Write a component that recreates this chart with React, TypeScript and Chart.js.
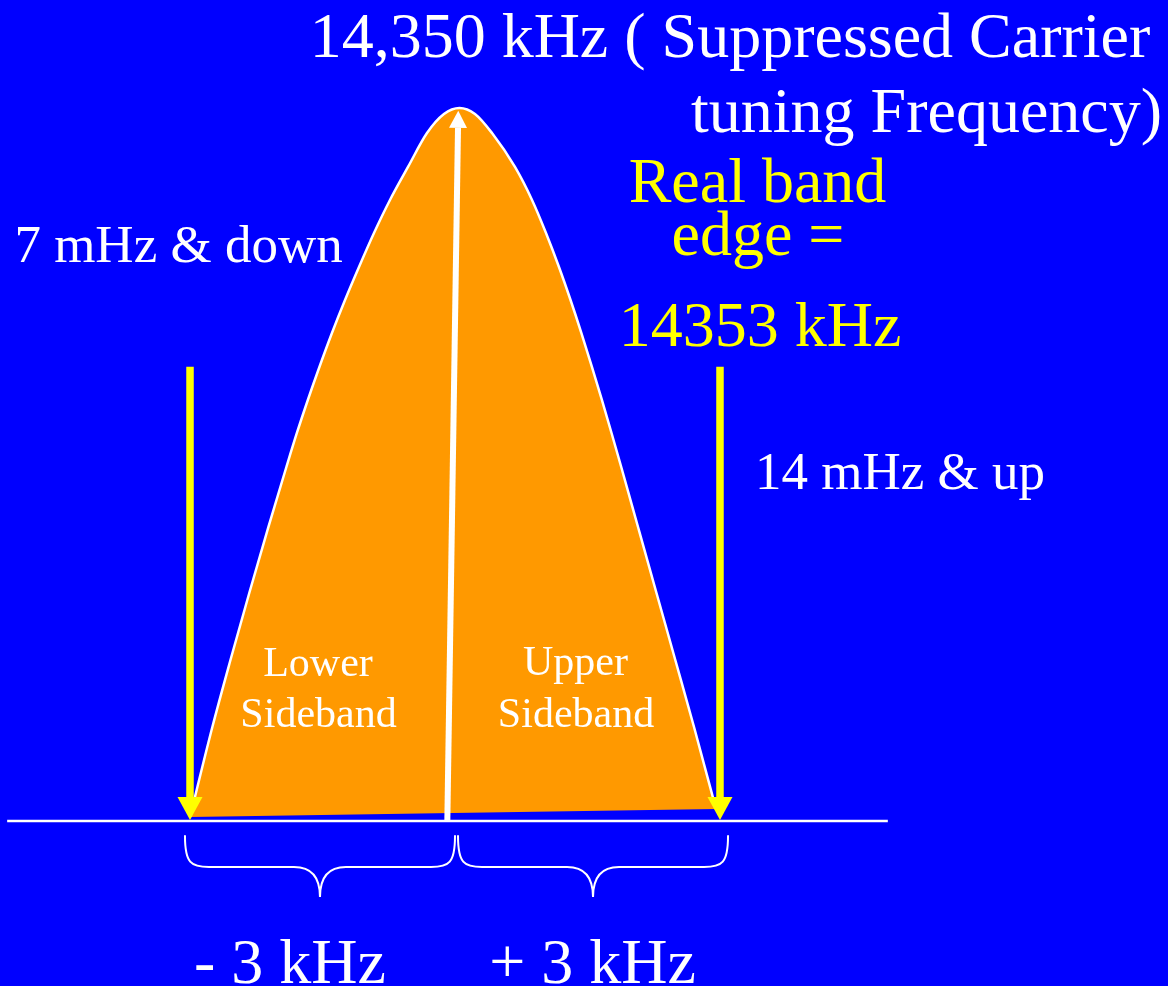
import React, { useEffect, useRef } from "react";
import { Chart, registerables } from "chart.js";

Chart.register(...registerables);

// ---- Data (x: offset from suppressed carrier in kHz, y: relative amplitude) ----
const curveOffsetKHz = [
  -3.0, -2.747, -2.542, -2.329, -2.113, -1.909, -1.79, -1.666, -1.535, -1.393, -1.245, -1.087,
  -0.917, -0.736, -0.532, -0.317, -0.125, 0.051, 0.226, 0.419, 0.679, 0.872, 1.03, 1.177, 1.308,
  1.431, 1.551, 1.663, 1.772, 1.882, 2.072, 2.281, 2.494, 2.706, 2.955,
];
const curveAmplitude = [
  0.0056, 0.1318, 0.2258, 0.3198, 0.4123, 0.4965, 0.5442, 0.5905, 0.6367, 0.6844, 0.7307, 0.777,
  0.8247, 0.871, 0.9173, 0.9649, 0.9916, 1.0, 0.9916, 0.9649, 0.9173, 0.871, 0.8247, 0.777, 0.7307,
  0.6844, 0.6367, 0.5905, 0.5442, 0.4965, 0.4123, 0.3198, 0.2258, 0.1318, 0.0168,
];
const bottomEdgeX = [-3.0, 2.955];
const bottomEdgeY = [0.0056, 0.0168];

const axisLineX = [-5.07, 4.9];
const axisLineY = [0, 0];

const bandEdgeArrowX = [-3.0, 3.0];
const bandEdgeArrowTop = 0.637;
const bandEdgeArrowShaftEnd = 0.03;
const bandEdgeArrowTip = 0.0014;

const carrierArrowX = [-0.087, 0.034];
const carrierArrowY = [0, 0.972];
const carrierArrowTip = [0.037, 0.996];

const braceFromKHz = [-3.057, 0.034];
const braceToKHz = [0.0, 3.091];
const braceTopY = -0.021;
const braceMidY = -0.0645;
const braceTipY = -0.1066;

const carrierLabel = ["14,350 kHz ( Suppressed Carrier", "tuning Frequency)"];
const bandEdgeLabel = ["Real band", "edge =", "14353 kHz"];
const lowerBandLabel = "7 mHz & down";
const upperBandLabel = "14 mHz & up";
const sidebandLabels = [
  ["Lower", "Sideband"],
  ["Upper", "Sideband"],
];
const offsetLabels = ["- 3 kHz", "+ 3 kHz"];

// ---- Styling ----
const BLUE = "#0000FF";
const ORANGE = "#FF9900";
const YELLOW = "#FFFF00";
const WHITE = "#FFFFFF";
const FONT = '"Liberation Serif", "Times New Roman", serif';

const zip = (xs: number[], ys: number[]) => xs.map((x, i) => ({ x, y: ys[i] }));

function drawHead(
  ctx: CanvasRenderingContext2D,
  tx: number,
  ty: number,
  fx: number,
  fy: number,
  len: number,
  w: number,
  color: string
) {
  const dx = tx - fx;
  const dy = ty - fy;
  const d = Math.hypot(dx, dy) || 1;
  const ux = dx / d;
  const uy = dy / d;
  const bx = tx - ux * len;
  const by = ty - uy * len;
  const nx = -uy;
  const ny = ux;
  ctx.beginPath();
  ctx.moveTo(tx, ty);
  ctx.lineTo(bx + (nx * w) / 2, by + (ny * w) / 2);
  ctx.lineTo(bx - (nx * w) / 2, by - (ny * w) / 2);
  ctx.closePath();
  ctx.fillStyle = color;
  ctx.fill();
}

const overlayPlugin = {
  id: "overlay",
  afterDatasetsDraw(chart: any) {
    const ctx: CanvasRenderingContext2D = chart.ctx;
    const xs = chart.scales.x;
    const ys = chart.scales.y;
    const px = (v: number) => xs.getPixelForValue(v);
    const py = (v: number) => ys.getPixelForValue(v);
    ctx.save();

    // arrow heads
    bandEdgeArrowX.forEach((x) => {
      drawHead(ctx, px(x), py(bandEdgeArrowTip), px(x), py(bandEdgeArrowTop), 23, 25, YELLOW);
    });
    drawHead(
      ctx,
      px(carrierArrowTip[0]),
      py(carrierArrowTip[1]),
      px(carrierArrowX[0]),
      py(carrierArrowY[0]),
      17,
      18,
      WHITE
    );

    // braces
    ctx.strokeStyle = WHITE;
    ctx.lineWidth = 2;
    ctx.lineCap = "round";
    braceFromKHz.forEach((from, i) => {
      const x0 = px(from);
      const x1 = px(braceToKHz[i]);
      const xm = (x0 + x1) / 2;
      const yT = py(braceTopY);
      const yM = py(braceMidY);
      const yP = py(braceTipY);
      ctx.beginPath();
      ctx.moveTo(x0, yT);
      ctx.bezierCurveTo(x0, yM - 4, x0 + 6, yM, x0 + 24, yM);
      ctx.lineTo(xm - 26, yM);
      ctx.bezierCurveTo(xm - 8, yM, xm, yM + 10, xm, yP);
      ctx.bezierCurveTo(xm, yM + 10, xm + 8, yM, xm + 26, yM);
      ctx.lineTo(x1 - 24, yM);
      ctx.bezierCurveTo(x1 - 6, yM, x1, yM - 4, x1, yT);
      ctx.stroke();
    });

    // texts
    ctx.textAlign = "center";
    ctx.textBaseline = "alphabetic";
    const text = (s: string, x: number, y: number, size: number, color: string) => {
      ctx.font = `${size}px ${FONT}`;
      ctx.fillStyle = color;
      ctx.fillText(s, px(x), py(y));
    };
    text(carrierLabel[0], 3.113, 1.0715, 64, WHITE);
    text(carrierLabel[1], 5.338, 0.9663, 64, WHITE);
    text(bandEdgeLabel[0], 3.425, 0.8682, 64, YELLOW);
    text(bandEdgeLabel[1], 3.43, 0.7938, 64, YELLOW);
    text(bandEdgeLabel[2], 3.453, 0.6655, 64, YELLOW);
    text(lowerBandLabel, -3.13, 0.784, 53, WHITE);
    text(upperBandLabel, 5.038, 0.4656, 53, WHITE);
    text(sidebandLabels[0][0], -1.551, 0.2034, 42, WHITE);
    text(sidebandLabels[0][1], -1.545, 0.1325, 42, WHITE);
    text(sidebandLabels[1][0], 1.364, 0.2048, 42, WHITE);
    text(sidebandLabels[1][1], 1.37, 0.1325, 42, WHITE);
    text(offsetLabels[0], -1.868, -0.2272, 64, WHITE);
    text(offsetLabels[1], 1.557, -0.2272, 64, WHITE);

    ctx.restore();
  },
};

export default function App() {
  const canvasRef = useRef<HTMLCanvasElement | null>(null);

  useEffect(() => {
    const canvas = canvasRef.current;
    if (!canvas) return;
    const chart = new Chart(canvas, {
      type: "line",
      data: {
        datasets: [
          {
            label: "Sideband envelope",
            data: zip(curveOffsetKHz, curveAmplitude),
            borderColor: WHITE,
            borderWidth: 2.5,
            backgroundColor: ORANGE,
            fill: 1,
            cubicInterpolationMode: "monotone",
            pointRadius: 0,
            order: 10,
          } as any,
          {
            label: "Bottom edge",
            data: zip(bottomEdgeX, bottomEdgeY),
            borderWidth: 0,
            borderColor: "rgba(0,0,0,0)",
            pointRadius: 0,
            fill: false,
            order: 11,
          },
          {
            label: "Axis",
            data: zip(axisLineX, axisLineY),
            borderColor: WHITE,
            borderWidth: 2.5,
            pointRadius: 0,
            fill: false,
            order: 5,
          },
          {
            label: "Carrier arrow",
            data: zip(carrierArrowX, carrierArrowY),
            borderColor: WHITE,
            borderWidth: 6,
            pointRadius: 0,
            fill: false,
            order: 3,
          },
          ...bandEdgeArrowX.map((x, i) => ({
            label: `Band edge arrow ${i + 1}`,
            data: [
              { x, y: bandEdgeArrowTop },
              { x, y: bandEdgeArrowShaftEnd },
            ],
            borderColor: YELLOW,
            borderWidth: 7.5,
            pointRadius: 0,
            fill: false,
            order: 1,
          })),
        ],
      },
      options: {
        animation: false,
        responsive: false,
        devicePixelRatio: 1,
        layout: { padding: 0 },
        parsing: false,
        normalized: true,
        scales: {
          x: { type: "linear", min: -455 / 88.33, max: (1168 - 455) / 88.33, display: false },
          y: { type: "linear", min: -(986 - 821) / 713, max: 821 / 713, display: false },
        },
        plugins: {
          legend: { display: false },
          tooltip: { enabled: false },
          title: { display: false },
        },
        events: [],
      },
      plugins: [overlayPlugin],
    });
    return () => chart.destroy();
  }, []);

  return (
    <div
      style={{
        position: "fixed",
        left: 0,
        top: 0,
        width: 1168,
        height: 986,
        background: BLUE,
        overflow: "hidden",
      }}
    >
      <canvas ref={canvasRef} width={1168} height={986} style={{ display: "block" }} />
    </div>
  );
}
